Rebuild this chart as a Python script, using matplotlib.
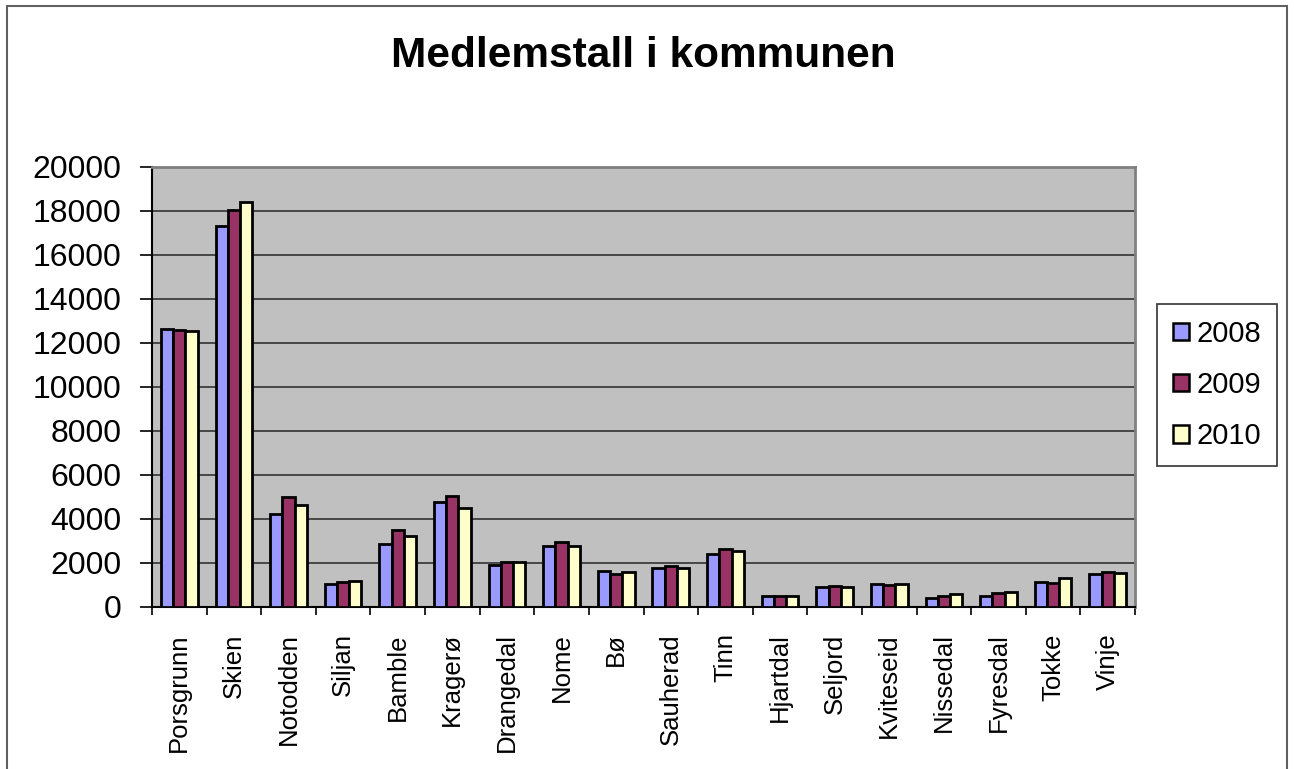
import numpy as np
import matplotlib.pyplot as plt
from matplotlib.patches import Rectangle

kommuner = ["Porsgrunn", "Skien", "Notodden", "Siljan", "Bamble", "Kragerø",
            "Drangedal", "Nome", "Bø", "Sauherad", "Tinn", "Hjartdal",
            "Seljord", "Kviteseid", "Nissedal", "Fyresdal", "Tokke", "Vinje"]
aar = ["2008", "2009", "2010"]
v2008 = [12620, 17310, 4250, 1030, 2850, 4780, 1930, 2760, 1640, 1790, 2400, 500,
         900, 1050, 410, 520, 1120, 1520]
v2009 = [12600, 18060, 4990, 1150, 3520, 5050, 2060, 2940, 1490, 1850, 2620, 490,
         940, 990, 490, 640, 1110, 1580]
v2010 = [12530, 18390, 4640, 1170, 3230, 4510, 2060, 2760, 1610, 1790, 2560, 490,
         900, 1060, 610, 670, 1300, 1550]
farger = ["#9999FF", "#993366", "#FFFFCC"]


def main():
    plt.rcParams['font.family'] = ['Liberation Sans', 'DejaVu Sans']
    fig = plt.figure(figsize=(12.94, 7.69), dpi=100)
    ax = fig.add_axes([152 / 1294, 1 - 607 / 769, 983 / 1294, 440 / 769])

    x = np.arange(len(kommuner))
    w = 0.2236
    for i, (serie, farge) in enumerate(zip([v2008, v2009, v2010], farger)):
        ax.bar(x + (i - 1) * w, serie, w, color=farge, edgecolor="black",
               linewidth=2, label=aar[i], zorder=3)

    ax.set_facecolor("#C0C0C0")
    ax.set_xlim(-0.5, len(kommuner) - 0.5)
    ax.set_ylim(0, 20000)
    ax.set_yticks(np.arange(0, 20001, 2000))
    ax.yaxis.grid(True, color="#333333", linewidth=1.2, zorder=0)
    ax.set_axisbelow(True)

    ax.set_xticks(x)
    ax.set_xticklabels(kommuner, rotation=90, fontsize=18.5)
    ax.set_xticks(np.arange(-0.5, len(kommuner)), minor=True)
    ax.tick_params(axis="x", which="major", length=0, pad=19)
    ax.tick_params(axis="x", which="minor", length=6, width=1.2, direction="out")
    ax.tick_params(axis="y", labelsize=23, length=9, width=1.2, pad=13)

    for s in ["top", "right"]:
        ax.spines[s].set_color("#808080")
        ax.spines[s].set_linewidth(2)
    ax.spines["left"].set_linewidth(1.5)
    ax.spines["bottom"].set_linewidth(1.5)

    fig.text(643 / 1294, 1 - 66.7 / 769, "Medlemstall i kommunen", ha="center",
             va="baseline", fontsize=30.5, fontweight="bold")

    leg = fig.legend(loc="center left", bbox_to_anchor=(1157 / 1294, 1 - 385 / 769),
                     fontsize=21, frameon=True, fancybox=False, edgecolor="black",
                     handlelength=0.55, handleheight=0.55, handletextpad=0.25,
                     labelspacing=0.8, borderpad=0.55, borderaxespad=0)
    leg.get_frame().set_linewidth(1.2)
    for h in leg.legend_handles:
        h.set_linewidth(1.8)

    fig.patches.append(Rectangle((7 / 1294, -0.05), 1280 / 1294, 1.05 - 6 / 769,
                                 transform=fig.transFigure, fill=False,
                                 edgecolor="#606060", linewidth=1.5))

    fig.savefig("out.png", dpi=100)


if __name__ == '__main__':
    main()
